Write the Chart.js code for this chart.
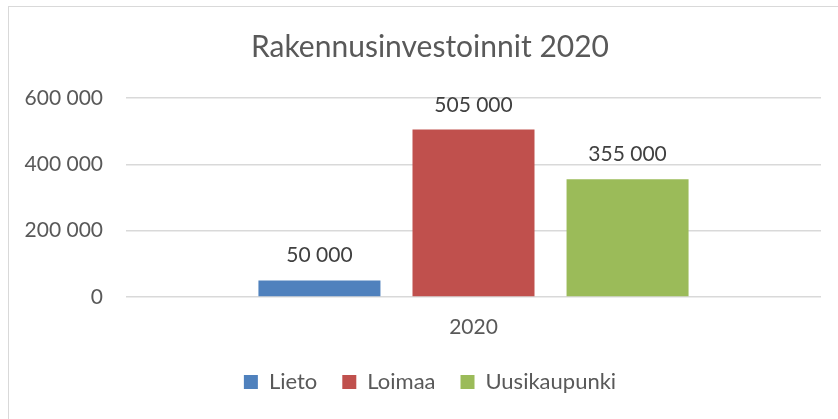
<!DOCTYPE html>
<html>
<head>
<meta charset="utf-8">
<script src="https://cdn.jsdelivr.net/npm/chart.js@4"></script>
<style>
  html, body { margin: 0; padding: 0; background: #fff; overflow: hidden; }
  #frame {
    position: absolute; left: 8px; top: 6px;
    width: 842px; height: 430px;
    border: 1px solid #d9d9d9;
  }
  #chart { display: block; }
</style>
</head>
<body>
<div id="frame"><canvas id="chart" width="842" height="420"></canvas></div>
<script>
const categories = ['2020'];
const towns = ['Lieto', 'Loimaa', 'Uusikaupunki'];
const investments = [50000, 505000, 355000];
const colors = ['#4F81BD', '#C0504D', '#9BBB59'];
const yTicks = [0, 200000, 400000, 600000];

const fmt = v => String(v).replace(/\B(?=(\d{3})+(?!\d))/g, ' ');

const valueLabels = {
  id: 'valueLabels',
  afterDatasetsDraw(chart) {
    const ctx = chart.ctx;
    ctx.save();
    ctx.font = '21px Lato';
    ctx.fillStyle = '#404040';
    ctx.textAlign = 'center';
    ctx.textBaseline = 'alphabetic';
    chart.data.datasets.forEach((ds, i) => {
      chart.getDatasetMeta(i).data.forEach((bar, j) => {
        ctx.fillText(fmt(ds.data[j]), bar.x, bar.y - 18);
      });
    });
    ctx.restore();
  }
};

new Chart(document.getElementById('chart').getContext('2d'), {
  type: 'bar',
  data: {
    labels: categories,
    datasets: towns.map((t, i) => ({
      label: t,
      data: [investments[i]],
      backgroundColor: colors[i],
      categoryPercentage: 0.665,
      barPercentage: 0.792
    }))
  },
  options: {
    responsive: false,
    animation: false,
    layout: { padding: { left: 0, right: 0, top: 0, bottom: 24 } },
    plugins: {
      title: {
        display: true,
        text: 'Rakennusinvestoinnit 2020',
        color: '#595959',
        font: { family: 'Lato', size: 30, weight: 'normal' },
        padding: { top: 22, bottom: 33 }
      },
      legend: {
        position: 'bottom',
        labels: {
          color: '#595959',
          font: { family: 'Lato', size: 22 },
          boxWidth: 14,
          boxHeight: 14,
          padding: 25
        }
      },
      tooltip: { enabled: false }
    },
    scales: {
      x: {
        grid: { display: false, drawTicks: false },
        border: { display: false },
        afterFit: s => { s.height = 49; },
        ticks: { color: '#595959', font: { family: 'Lato', size: 21 }, padding: 18 }
      },
      y: {
        min: 0,
        max: 600000,
        afterBuildTicks: s => { s.ticks = yTicks.map(v => ({ value: v })); },
        afterFit: s => { s.width = 117; },
        grid: { color: '#d9d9d9', lineWidth: 1.5, drawTicks: false },
        border: { display: false },
        ticks: {
          color: '#595959',
          font: { family: 'Lato', size: 21 },
          padding: 23,
          callback: v => fmt(v)
        }
      },
      yRight: {
        type: 'linear',
        position: 'right',
        grid: { display: false, drawTicks: false },
        border: { display: false },
        ticks: { display: false },
        afterFit: s => { s.width = 30; }
      }
    }
  },
  plugins: [valueLabels]
});
</script>
</body>
</html>
